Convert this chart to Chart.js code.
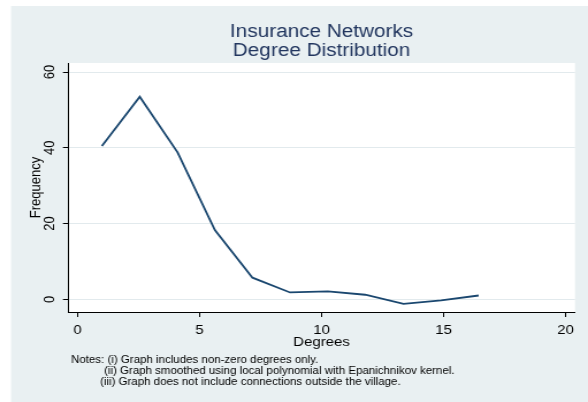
<!DOCTYPE html>
<html>
<head>
<meta charset="utf-8">
<script src="https://cdn.jsdelivr.net/npm/chart.js@4/dist/chart.umd.min.js"></script>
<style>
  html, body { margin: 0; padding: 0; background: #fff; overflow: hidden; }
  /* o gráfico é desenhado mais estreito e esticado na horizontal */
  #wrap { width: 511px; height: 402px; transform: scaleX(1.1507); transform-origin: 0 0; }
</style>
</head>
<body>
<div id="wrap"><canvas id="grafico" width="511" height="402"></canvas></div>
<script>
// Distribuição de grau (suavizada) da rede de seguros
const graus = [1.0, 2.55, 4.1, 5.63, 7.17, 8.71, 10.26, 11.79, 13.36, 14.9, 16.44];
const frequencias = [40.5, 53.5, 38.8, 18.3, 5.7, 1.8, 2.1, 1.2, -1.2, -0.3, 1.0];
const ticksX = [0, 5, 10, 15, 20];
const ticksY = [0, 20, 40, 60];
const titulo = ['Insurance Networks', 'Degree Distribution'];
const tituloX = 'Degrees';
const tituloY = 'Frequency';
const notas = [
    'Notes: (i) Graph includes non-zero degrees only.',
    '(ii) Graph smoothed using local polynomial with Epanichnikov kernel.',
    '(iii) Graph does not include connections outside the village.'
];

const FONTE = "'Liberation Sans', Arial, Helvetica, sans-serif";
const FUNDO = '#e9f0f2';
const AZUL = '#1a476f';

// Fundo, região do gráfico e textos soltos (títulos e notas)
const molduraStata = {
    id: 'molduraStata',
    beforeDraw(chart) {
        const ctx = chart.ctx;
        const a = chart.chartArea;
        ctx.save();
        ctx.fillStyle = '#ffffff';
        ctx.fillRect(0, 0, chart.width, chart.height);
        ctx.fillStyle = FUNDO;
        ctx.fillRect(9.6, 6, chart.width - 9.6, chart.height - 6);
        ctx.fillStyle = '#ffffff';
        ctx.fillRect(a.left, a.top, a.right - a.left, a.bottom - a.top);
        ctx.restore();
    },
    afterDraw(chart) {
        const ctx = chart.ctx;
        const a = chart.chartArea;
        const cx = (a.left + a.right) / 2;
        ctx.save();

        // título em duas linhas
        ctx.fillStyle = '#22365f';
        ctx.font = '18px ' + FONTE;
        ctx.textAlign = 'center';
        ctx.textBaseline = 'alphabetic';
        ctx.fillText(titulo[0], cx, 37);
        ctx.fillText(titulo[1], cx, 56);

        // títulos dos eixos
        ctx.fillStyle = '#000';
        ctx.font = '13px ' + FONTE;
        ctx.fillText(tituloX, cx, 346);
        ctx.save();
        ctx.translate(31.5, (a.top + a.bottom) / 2);
        ctx.rotate(-Math.PI / 2);
        ctx.textBaseline = 'middle';
        ctx.fillText(tituloY, 0, 0);
        ctx.restore();

        // notas de rodapé
        ctx.font = '10px ' + FONTE;
        ctx.textAlign = 'left';
        ctx.fillText(notas[0], 61.7, 363);
        ctx.fillText(notas[1], 90.4, 374);
        ctx.fillText(notas[2], 86.9, 385);
        ctx.restore();
    }
};

const ctx = document.getElementById('grafico').getContext('2d');
new Chart(ctx, {
    type: 'line',
    data: {
        datasets: [{
            data: graus.map((g, i) => ({ x: g, y: frequencias[i] })),
            borderColor: AZUL,
            borderWidth: 1.8,
            pointRadius: 0,
            tension: 0,
            fill: false
        }]
    },
    options: {
        responsive: false,
        animation: false,
        devicePixelRatio: 1,
        layout: { padding: { left: 0, top: 63, right: 11.3, bottom: 0 } },
        plugins: {
            legend: { display: false },
            tooltip: { enabled: false }
        },
        scales: {
            x: {
                type: 'linear',
                min: -0.39,
                max: 20.39,
                afterBuildTicks: s => { s.ticks = ticksX.map(v => ({ value: v })); },
                afterFit: s => { s.height = 90; },
                grid: { drawOnChartArea: false, tickColor: '#000', tickLength: 5 },
                border: { color: '#000', width: 1 },
                ticks: { color: '#000', font: { family: FONTE, size: 13 }, padding: 6, maxRotation: 0, autoSkip: false }
            },
            y: {
                type: 'linear',
                min: -3.36,
                max: 62.4,
                afterBuildTicks: s => { s.ticks = ticksY.map(v => ({ value: v })); },
                afterFit: s => { s.width = 59.1; },
                grid: { color: '#e2eaed', lineWidth: 1, tickColor: '#000', tickLength: 4.4 },
                border: { color: '#000', width: 1 },
                ticks: {
                    color: '#000', font: { family: FONTE, size: 13 }, padding: 4,
                    minRotation: 90, maxRotation: 90, crossAlign: 'center', autoSkip: false
                }
            }
        }
    },
    plugins: [molduraStata]
});
</script>
</body>
</html>
